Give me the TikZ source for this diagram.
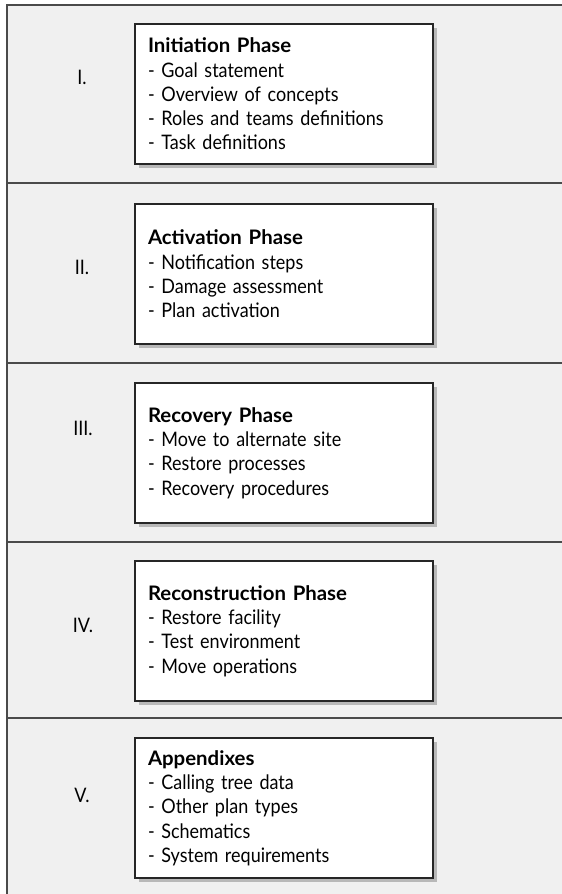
\documentclass[tikz,border=0pt]{standalone}
\usepackage{fontspec}
\setmainfont{Lato}[FakeStretch=0.9,BoldFeatures={FakeStretch=1.02}]
\usepackage{tikz}
\usetikzlibrary{positioning,shadows}
\definecolor{rowgray}{HTML}{F0F0F0}
\definecolor{framegray}{HTML}{4A4A4A}
\definecolor{shadowgray}{HTML}{B8B8B8}
\tikzset{
  phasebox/.style={rectangle,draw=black!85,line width=1.2pt,fill=white,
    minimum width=298pt,minimum height=140pt,text width=272pt,inner xsep=13pt,
    align=left,font=\fontsize{20}{24.3}\selectfont,
    drop shadow={shadow xshift=4pt,shadow yshift=-4pt,fill=shadowgray,opacity=1}},
  numeral/.style={anchor=base,inner sep=0pt,font=\fontsize{20}{24}\selectfont},
  rowline/.style={draw=framegray,line width=1.5pt}
}
\begin{document}
\begin{tikzpicture}[x=1pt,y=-1pt]
    \useasboundingbox (0,0) rectangle (562,894);
    \fill[rowgray] (7,5) rectangle (562,894);
    \draw[rowline] (562,5) -- (7,5) -- (7,894);
    \foreach \y in {183,363,542,718}
        \draw[rowline] (7,\y) -- (562,\y);

    \node[phasebox] (initiation) at (284,94) {\textbf{Initiation Phase}\\- Goal statement\\- Overview of concepts\\- Roles and teams definitions\\- Task definitions};
    \node[phasebox] (activation) at (284,274) {\textbf{Activation Phase}\\- Notification steps\\- Damage assessment\\- Plan activation};
    \node[phasebox] (recovery) at (284,453) {\textbf{Recovery Phase}\\- Move to alternate site\\- Restore processes\\- Recovery procedures};
    \node[phasebox] (reconstruction) at (284,631) {\textbf{Reconstruction Phase}\\- Restore facility\\- Test environment\\- Move operations};
    \node[phasebox] (appendixes) at (284,808) {\textbf{Appendixes}\\- Calling tree data\\- Other plan types\\- Schematics\\- System requirements};

    \node[numeral] (num1) at (82,84) {I.};
    \node[numeral] (num2) at (82,274) {II.};
    \node[numeral] (num3) at (83,435) {III.};
    \node[numeral] (num4) at (83,632) {IV.};
    \node[numeral] (num5) at (82,802) {V.};
\end{tikzpicture}
\end{document}
